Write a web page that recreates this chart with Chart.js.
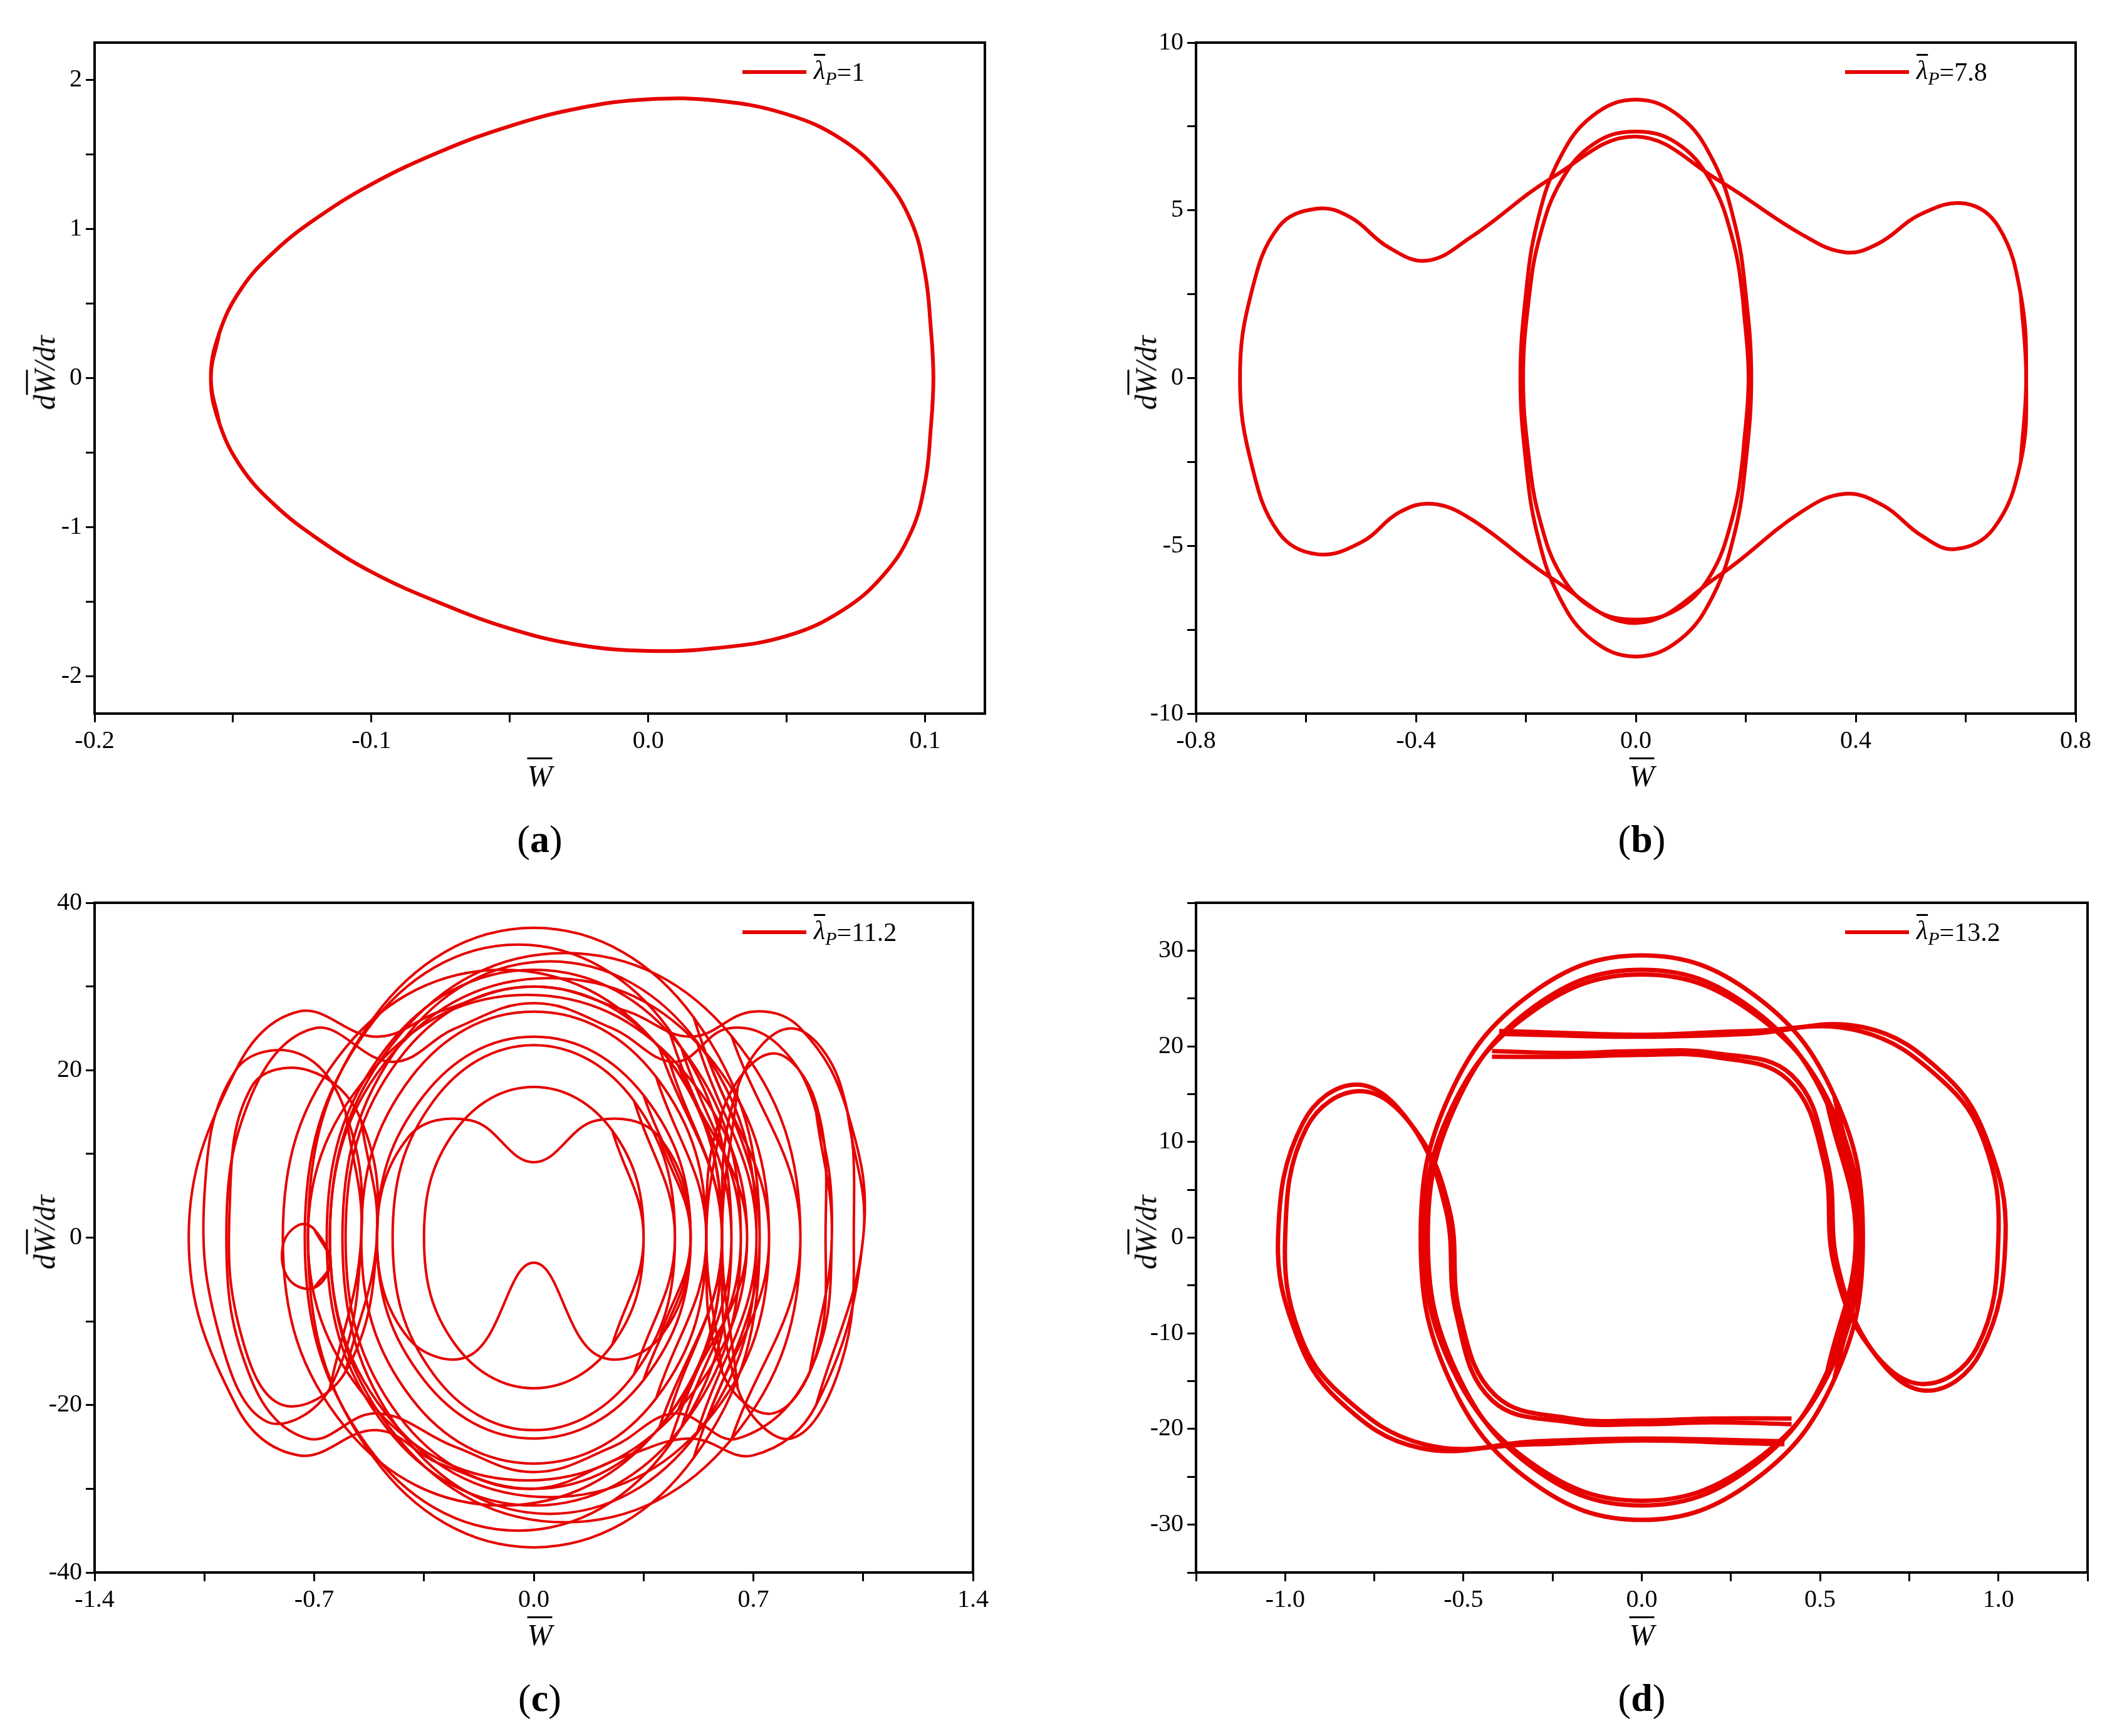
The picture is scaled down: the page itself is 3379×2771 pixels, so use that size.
<!DOCTYPE html>
<html>
<head>
<meta charset="utf-8">
<script src="https://cdn.jsdelivr.net/npm/chart.js@4.4.1/dist/chart.umd.min.js"></script>
<style>
  body { margin: 0; background: #fff; width: 3379px; height: 2771px; position: relative; overflow: hidden;
         font-family: "Liberation Serif", "DejaVu Serif", serif; }
  .box { position: absolute; }
  .ov { text-decoration: overline; text-decoration-thickness: 3px; }
  .lab { position: absolute; font-size: 48px; white-space: nowrap; }
  .cap { position: absolute; font-size: 62px; white-space: nowrap; transform: translateX(-50%); }
  .leg { position: absolute; font-size: 42px; white-space: nowrap; display: flex; align-items: center; }
  .leg .ln { display: inline-block; width: 102px; height: 6px; background: #e60000; margin-right: 12px; }
  .ylab { transform: translate(-50%, -50%) rotate(-90deg); }
  .xlab { transform: translateX(-50%); }
</style>
</head>
<body>
<script>
// ---------- data ----------
const labelA = '1', labelB = '7.8', labelC = '11.2', labelD = '13.2';

// (a) single limit cycle
const curveA = [[-0.158,0],[-0.155,0.3],[-0.147,0.6],[-0.135,0.85],[-0.12,1.07],[-0.1,1.3],[-0.075,1.52],[-0.05,1.69],[-0.025,1.81],[0,1.87],
  [0.025,1.86],[0.05,1.77],[0.07,1.6],[0.085,1.35],[0.095,1.05],[0.1,0.7],[0.102,0.35],[0.103,0],
  [0.102,-0.35],[0.1,-0.7],[0.095,-1.03],[0.085,-1.32],[0.07,-1.56],[0.05,-1.73],[0.025,-1.81],[0,-1.83],
  [-0.025,-1.79],[-0.05,-1.68],[-0.075,-1.51],[-0.1,-1.3],[-0.12,-1.07],[-0.135,-0.85],[-0.147,-0.6],[-0.155,-0.3],[-0.158,0]];

// (b)
const outerB = [[0.71,0],[0.7,2.5],[0.66,4.5],[0.6,5.2],[0.52,4.9],[0.44,4.0],[0.38,3.75],[0.3,4.3],[0.15,5.9],[0,7.2],
  [-0.15,6.0],[-0.3,4.2],[-0.38,3.5],[-0.45,3.9],[-0.52,4.8],[-0.58,5.05],[-0.65,4.5],[-0.7,2.5],[-0.72,0],
  [-0.7,-2.5],[-0.65,-4.6],[-0.58,-5.25],[-0.5,-4.9],[-0.43,-4.0],[-0.37,-3.75],[-0.3,-4.2],[-0.15,-6.0],[0,-7.3],
  [0.15,-5.9],[0.3,-4.0],[0.38,-3.45],[0.45,-3.8],[0.52,-4.7],[0.58,-5.1],[0.65,-4.5],[0.7,-2.5],[0.71,0]];
const innerB1 = [[0.21,0],[0.2,2.5],[0.18,4.6],[0.14,6.5],[0.08,7.8],[0,8.3],[-0.08,7.8],[-0.14,6.5],[-0.18,4.6],[-0.2,2.5],[-0.21,0],
  [-0.2,-2.5],[-0.18,-4.6],[-0.14,-6.5],[-0.08,-7.8],[0,-8.3],[0.08,-7.8],[0.14,-6.5],[0.18,-4.6],[0.2,-2.5],[0.21,0]];
const innerB2 = [[0.205,0],[0.195,2.3],[0.175,4.2],[0.135,5.9],[0.075,7.0],[0,7.35],[-0.075,7.0],[-0.135,5.9],[-0.175,4.2],[-0.195,2.3],[-0.205,0],
  [-0.195,-2.3],[-0.175,-4.2],[-0.135,-5.9],[-0.075,-6.9],[0,-7.2],[0.075,-6.9],[0.135,-5.9],[0.175,-4.2],[0.195,-2.3],[0.205,0]];

// (c) chaotic orbit, drawn as a bundle of loops
const loopsC = [
  [[.72,0],[.51,26.3],[0,37],[-.51,26.3],[-.72,0],[-.51,-26.3],[0,-37],[.51,-26.3],[.72,0]],
  [[.63,0],[.43,24.9],[-.05,35],[-.53,24.9],[-.73,0],[-.53,-24.9],[-.05,-35],[.43,-24.9],[.63,0]],
  [[.71,0],[.52,23.4],[.05,33],[-.42,23.4],[-.61,0],[-.42,-23.4],[.05,-33],[.52,-23.4],[.71,0]],
  [[.66,0],[.47,22.7],[0,32],[-.47,22.7],[-.66,0],[-.47,-22.7],[0,-32],[.47,-22.7],[.66,0]],
  [[.6,0],[.43,21.3],[0,30],[-.43,21.3],[-.6,0],[-.43,-21.3],[0,-30],[.43,-21.3],[.6,0]],
  [[.68,0],[.46,20.6],[-.02,29],[-.5,20.6],[-.72,0],[-.5,-20.6],[-.02,-29],[.46,-20.6],[.68,0]],
  [[.55,0],[.39,19.2],[0,27],[-.39,19.2],[-.55,0],[-.39,-19.2],[0,-27],[.39,-19.2],[.55,0]],
  [[.5,0],[.35,17],[0,24],[-.35,17],[-.5,0],[-.35,-17],[0,-24],[.35,-17],[.5,0]],
  [[.45,0],[.32,16.3],[0,23],[-.32,16.3],[-.45,0],[-.32,-16.3],[0,-23],[.32,-16.3],[.45,0]],
  [[.35,0],[.25,12.8],[0,18],[-.25,12.8],[-.35,0],[-.25,-12.8],[0,-18],[.25,-12.8],[.35,0]],
  [[.6,0],[.4,22.7],[-.1,32],[-.6,22.7],[-.8,0],[-.6,-22.7],[-.1,-32],[.4,-22.7],[.6,0]],
  [[.85,0],[.63,24.1],[.1,34],[-.43,24.1],[-.65,0],[-.43,-24.1],[.1,-34],[.63,-24.1],[.85,0]],
  [[.75,0],[.55,22],[.05,31],[-.45,22],[-.65,0],[-.45,-22],[.05,-31],[.55,-22],[.75,0]],
  [[1.05,0],[1.0,15],[0.85,25],[0.7,27],[0.5,24],[0.3,27],[0,30],[-0.3,27],[-0.5,24],[-0.75,27],[-0.95,20],[-1.1,0],
   [-0.95,-20],[-0.75,-26],[-0.5,-23],[-0.3,-27],[0,-30],[0.3,-26],[0.5,-24],[0.7,-26],[0.9,-20],[1.05,0]],
  [[0.95,0],[0.9,15],[0.78,23],[0.62,25],[0.45,21],[0.25,25],[0,28],[-0.25,25],[-0.45,21],[-0.7,25],[-0.9,17],[-0.98,0],
   [-0.9,-17],[-0.72,-24],[-0.5,-21],[-0.25,-25],[0,-28],[0.25,-25],[0.45,-21],[0.65,-24],[0.88,-16],[0.95,0]],
  [[-0.55,0],[-0.6,15],[-0.75,22],[-0.95,20],[-1.05,5],[-1.0,-12],[-0.85,-22],[-0.65,-18],[-0.55,0]],
  [[-0.5,0],[-0.55,14],[-0.72,20],[-0.9,18],[-0.97,3],[-0.93,-12],[-0.8,-20],[-0.6,-16],[-0.5,0]],
  [[0.6,0],[0.65,18],[0.82,25],[0.98,18],[1.02,0],[0.98,-15],[0.82,-24],[0.65,-18],[0.6,0]],
  [[0.55,0],[0.6,15],[0.76,22],[0.9,16],[0.93,0],[0.9,-14],[0.76,-21],[0.6,-16],[0.55,0]],
  [[0.5,0],[0.4,12],[0.2,14],[0,9],[-0.2,14],[-0.4,12],[-0.5,0],[-0.4,-12],[-0.2,-14],[0,-3],[0.2,-14],[0.4,-12],[0.5,0]],
  [[-0.65,-3],[-0.7,1],[-0.75,1.5],[-0.8,-1],[-0.78,-5],[-0.7,-6],[-0.65,-3]]
];

// (d)
const sideD1 = [[-0.42,19.5],[-0.2,19.3],[0,19.5],[0.2,19.3],[0.42,17],[0.52,8],[0.55,-3],[0.65,-12],[0.8,-16],[0.95,-12],[1.02,0],
  [0.97,10],[0.85,17],[0.62,22],[0.3,21.3],[0,21],[-0.3,21.2],[-0.4,21.3]];
const sideD2 = [[0.42,-19.5],[0.2,-19.3],[0,-19.5],[-0.2,-19.3],[-0.42,-17],[-0.52,-8],[-0.55,3],[-0.65,12],[-0.8,16],[-0.95,12],[-1.02,0],
  [-0.97,-10],[-0.85,-17],[-0.62,-22],[-0.3,-21.3],[0,-21],[0.3,-21.2],[0.4,-21.3]];
const sideD3 = [[-0.42,18.9],[-0.2,18.9],[0,19.1],[0.2,18.9],[0.41,16.5],[0.51,8],[0.54,-3],[0.64,-11.5],[0.79,-15.3],[0.94,-11.5],[1.0,0],
  [0.96,10],[0.84,16.5],[0.61,21.6],[0.3,21.6],[0,21.2],[-0.3,21.5],[-0.4,21.6]];
const sideD4 = [[0.42,-18.9],[0.2,-18.9],[0,-19.1],[-0.2,-18.9],[-0.41,-16.5],[-0.51,-8],[-0.54,3],[-0.64,11.5],[-0.79,15.3],[-0.94,11.5],[-1.0,0],
  [-0.96,-10],[-0.84,-16.5],[-0.61,-21.6],[-0.3,-21.6],[0,-21.2],[0.3,-21.5],[0.4,-21.6]];
const ellD1 = [[.62,0],[.54,14.8],[.31,25.5],[0,29.5],[-.31,25.5],[-.54,14.8],[-.62,0],[-.54,-14.8],[-.31,-25.5],[0,-29.5],[.31,-25.5],[.54,-14.8],[.62,0]];
const ellD2 = [[.6,0],[.52,14],[.3,24.2],[0,28],[-.3,24.2],[-.52,14],[-.6,0],[-.52,-14],[-.3,-24.2],[0,-28],[.3,-24.2],[.52,-14],[.6,0]];
const ellD3 = [[.61,0],[.53,13.8],[.3,23.8],[0,27.5],[-.3,23.8],[-.53,13.8],[-.61,0],[-.53,-13.8],[-.3,-23.8],[0,-27.5],[.3,-23.8],[.53,-13.8],[.61,0]];

// ---------- layout ----------
const YW = 150, XH = 100, PAD = 12;
const panels = [
  { id: 'a', left: 151, top: 50, w: 1421, h: 1089, x: [-0.2, 0.1216, 0.05, 0.1, 1], y: [-2.25, 2.25, 0.5, 1, 0],
    series: [curveA], lw: 6, leg: labelA },
  { id: 'b', left: 1909, top: 50, w: 1423, h: 1089, x: [-0.8, 0.8, 0.2, 0.4, 1], y: [-10, 10, 2.5, 5, 0],
    series: [outerB, innerB1, innerB2], lw: 6, leg: labelB },
  { id: 'c', left: 151, top: 1423, w: 1421, h: 1087, x: [-1.4, 1.4, 0.35, 0.7, 1], y: [-40, 40, 10, 20, 0],
    series: loopsC, lw: 4, leg: labelC },
  { id: 'd', left: 1909, top: 1423, w: 1423, h: 1087, x: [-1.25, 1.25, 0.25, 0.5, 1], y: [-35, 35, 5, 10, 0],
    series: [sideD1, sideD2, sideD3, sideD4, ellD1, ellD2, ellD3], lw: 7, leg: labelD }
];

const frame = {
  id: 'frame',
  afterDraw(chart) {
    const { ctx, chartArea: a } = chart;
    ctx.save();
    ctx.strokeStyle = '#000';
    ctx.lineWidth = 4;
    ctx.strokeRect(a.left, a.top, a.right - a.left, a.bottom - a.top);
    ctx.restore();
  }
};

function axis(r, fix) {
  const [min, max, step, major, dec] = r;
  return {
    min, max,
    border: { display: true, color: '#000', width: 4 },
    grid: { drawOnChartArea: false, color: '#000', lineWidth: 3, tickLength: 14 },
    afterBuildTicks: s => {
      const ticks = [];
      for (let k = Math.ceil(min / step - 1e-6); k * step <= max + 1e-9; k++) ticks.push({ value: k * step });
      s.ticks = ticks;
    },
    ticks: {
      color: '#000', padding: 6, autoSkip: false, maxRotation: 0,
      font: { family: 'Liberation Serif', size: 40 },
      callback: v => {
        const q = v / major;
        if (Math.abs(q - Math.round(q)) > 1e-6) return '';
        return dec ? (Math.round(q) * major).toFixed(1) : String(Math.round(q) * major);
      }
    },
    afterFit: fix
  };
}

// closed loops get one extra point on each side so the spline has no corner at the seam
function toPoints(s) {
  const f = s[0], l = s[s.length - 1];
  let pts = s;
  if (s.length > 3 && f[0] === l[0] && f[1] === l[1]) pts = [s[s.length - 2], ...s, s[1]];
  return pts.map(([x, y]) => ({ x, y }));
}

function html(tag, cls, style, inner) {
  const el = document.createElement(tag);
  el.className = cls;
  Object.assign(el.style, style);
  el.innerHTML = inner;
  document.body.appendChild(el);
  return el;
}

panels.forEach(p => {
  const box = html('div', 'box', {
    left: (p.left - YW) + 'px', top: (p.top - PAD) + 'px',
    width: (p.w + YW + PAD) + 'px', height: (p.h + XH + PAD) + 'px'
  }, '');
  const cv = document.createElement('canvas');
  box.appendChild(cv);

  new Chart(cv, {
    type: 'scatter',
    data: {
      datasets: p.series.map(s => ({
        data: toPoints(s),
        showLine: true, pointRadius: 0, borderColor: '#e60000', borderWidth: p.lw,
        tension: 0.4, fill: false
      }))
    },
    options: {
      responsive: true, maintainAspectRatio: false, animation: false,
      layout: { padding: { top: PAD, right: PAD, left: 0, bottom: 0 } },
      plugins: { legend: { display: false }, tooltip: { enabled: false } },
      scales: {
        x: axis(p.x, s => { s.height = XH; }),
        y: axis(p.y, s => { s.width = YW; })
      }
    },
    plugins: [frame]
  });

  html('div', 'leg', { left: (p.left + p.w - 387) + 'px', top: (p.top + 38) + 'px' },
    '<span class="ln"></span><i><span class="ov">λ</span><sub style="font-size:30px">P</sub></i>=' + p.leg);
  html('div', 'lab xlab', { left: (p.left + p.w / 2) + 'px', top: (p.top + p.h + 72) + 'px' },
    '<i><span class="ov">W</span></i>');
  html('div', 'lab ylab', { left: (p.left - 80) + 'px', top: (p.top + p.h / 2) + 'px' },
    '<i>d<span class="ov">W</span>/dτ</i>');
  html('div', 'cap', { left: (p.left + p.w / 2) + 'px', top: (p.top + p.h + 165) + 'px' },
    '(<b>' + p.id + '</b>)');
});
</script>
</body>
</html>
